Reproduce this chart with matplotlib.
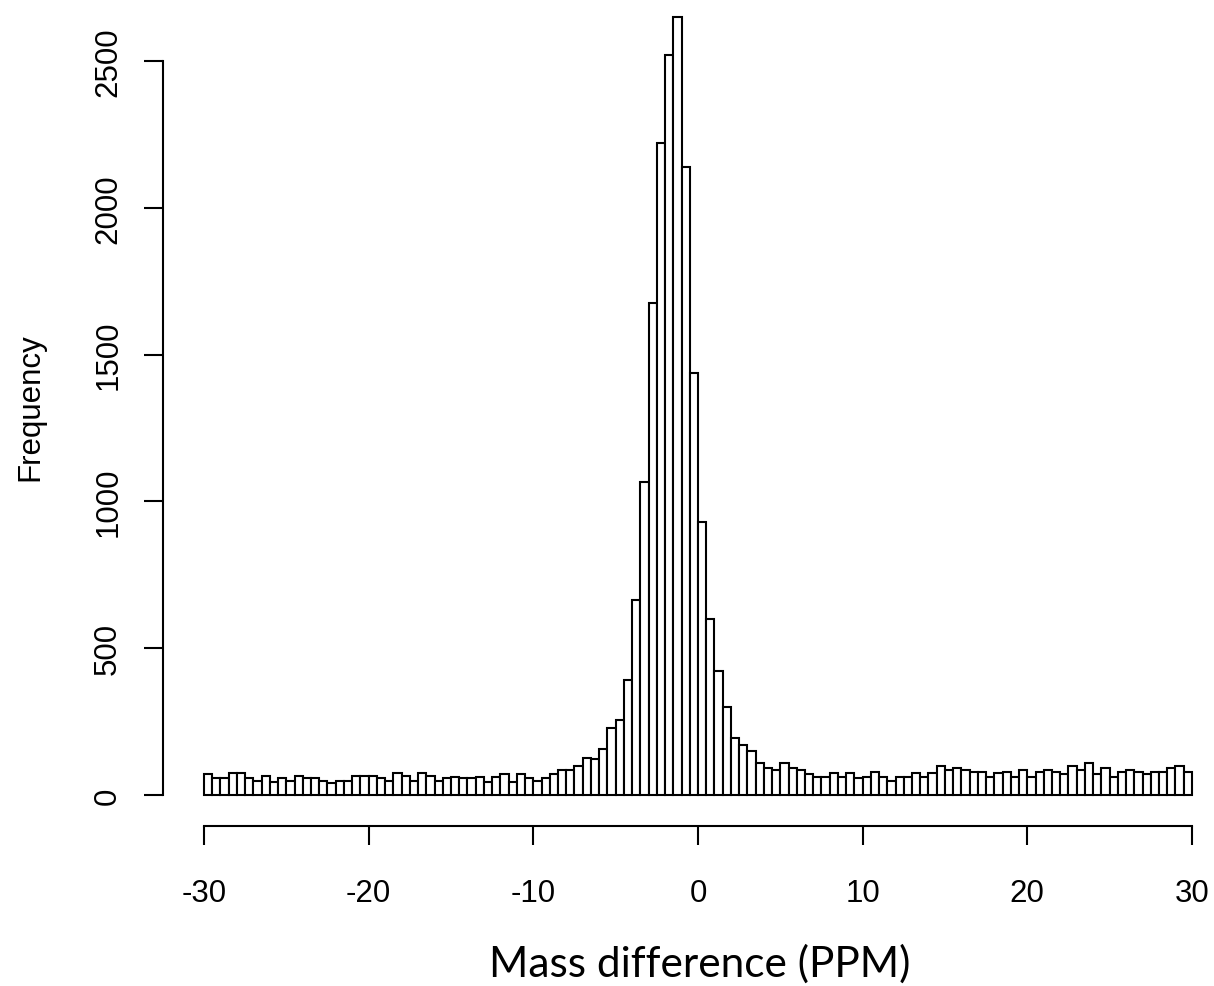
import matplotlib
matplotlib.use("Agg")
import matplotlib.pyplot as plt
import numpy as np

plt.rcParams['axes.unicode_minus'] = False

bin_width = 0.5
bin_start = -30.0
counts_left = [71, 57, 57, 74, 74, 57, 49, 66, 43, 57, 49, 66, 57, 57, 49, 41, 49, 49, 66, 66,
               66, 57, 49, 74, 66, 49, 74, 66, 49]
counts_midleft = [57, 62, 57, 57, 62, 43, 62, 71, 43, 71, 57, 49, 57, 71, 85, 85, 100, 127]
counts_center = [123, 157, 228, 256, 393, 665, 1066, 1676, 2221, 2520, 2649, 2140, 1438, 930,
                 601, 421, 300, 193, 171, 151, 108]
counts_midright = [93, 86, 108, 93, 86, 71, 62, 62, 74, 62, 74, 57, 62, 79, 62, 49, 62, 62, 74,
                   62, 74, 100, 85, 93, 86]
counts_right = [79, 79, 62, 74, 79, 62, 86, 62, 79, 86, 79, 71, 100, 86, 108, 71, 93, 62, 79, 86,
                79, 71, 79, 79, 93, 100, 79]
x_ticks = [-30, -20, -10, 0, 10, 20, 30]
y_ticks = [0, 500, 1000, 1500, 2000, 2500]

counts = counts_left + counts_midleft + counts_center + counts_midright + counts_right
edges = bin_start + bin_width * np.arange(len(counts))

W, H = 1214, 987
fig = plt.figure(figsize=(W / 100, H / 100), dpi=100)
# axes spans pixel x 163..1214, y 0..827 (top-down)
ax = fig.add_axes([163 / W, (H - 827) / H, (W - 163) / W, 827 / H])
ax.bar(edges, counts, width=bin_width, align='edge', facecolor='white',
       edgecolor='black', linewidth=1.5)
ax.set_xlim(-32.49, 31.34)
ax.set_ylim(-105.6, 2711)

for s in ['top', 'right']:
    ax.spines[s].set_visible(False)
ax.spines['bottom'].set_bounds(-30, 30)
ax.spines['left'].set_bounds(0, 2500)
ax.spines['bottom'].set_linewidth(1.5)
ax.spines['left'].set_linewidth(1.5)
ax.set_xticks(x_ticks)
ax.set_yticks(y_ticks)
ax.set_yticklabels([str(v) for v in y_ticks], rotation=90, va='center')
ax.tick_params(axis='both', direction='out', length=13.7, width=1.5,
               labelsize=22.5)
ax.tick_params(axis='x', pad=24)
ax.tick_params(axis='y', pad=15)
for lab in ax.get_xticklabels() + ax.get_yticklabels():
    lab.set_family('Liberation Sans')

fig.text(30 / W, 1 - 407 / H, 'Frequency', rotation=90, ha='center', va='center',
         fontsize=22.5, family='Liberation Sans')
fig.text(700 / W, 1 - 977 / H, 'Mass difference (PPM)', ha='center', va='baseline',
         fontsize=30.5, family='Lato')

fig.savefig('out.png', dpi=100, facecolor='white')
